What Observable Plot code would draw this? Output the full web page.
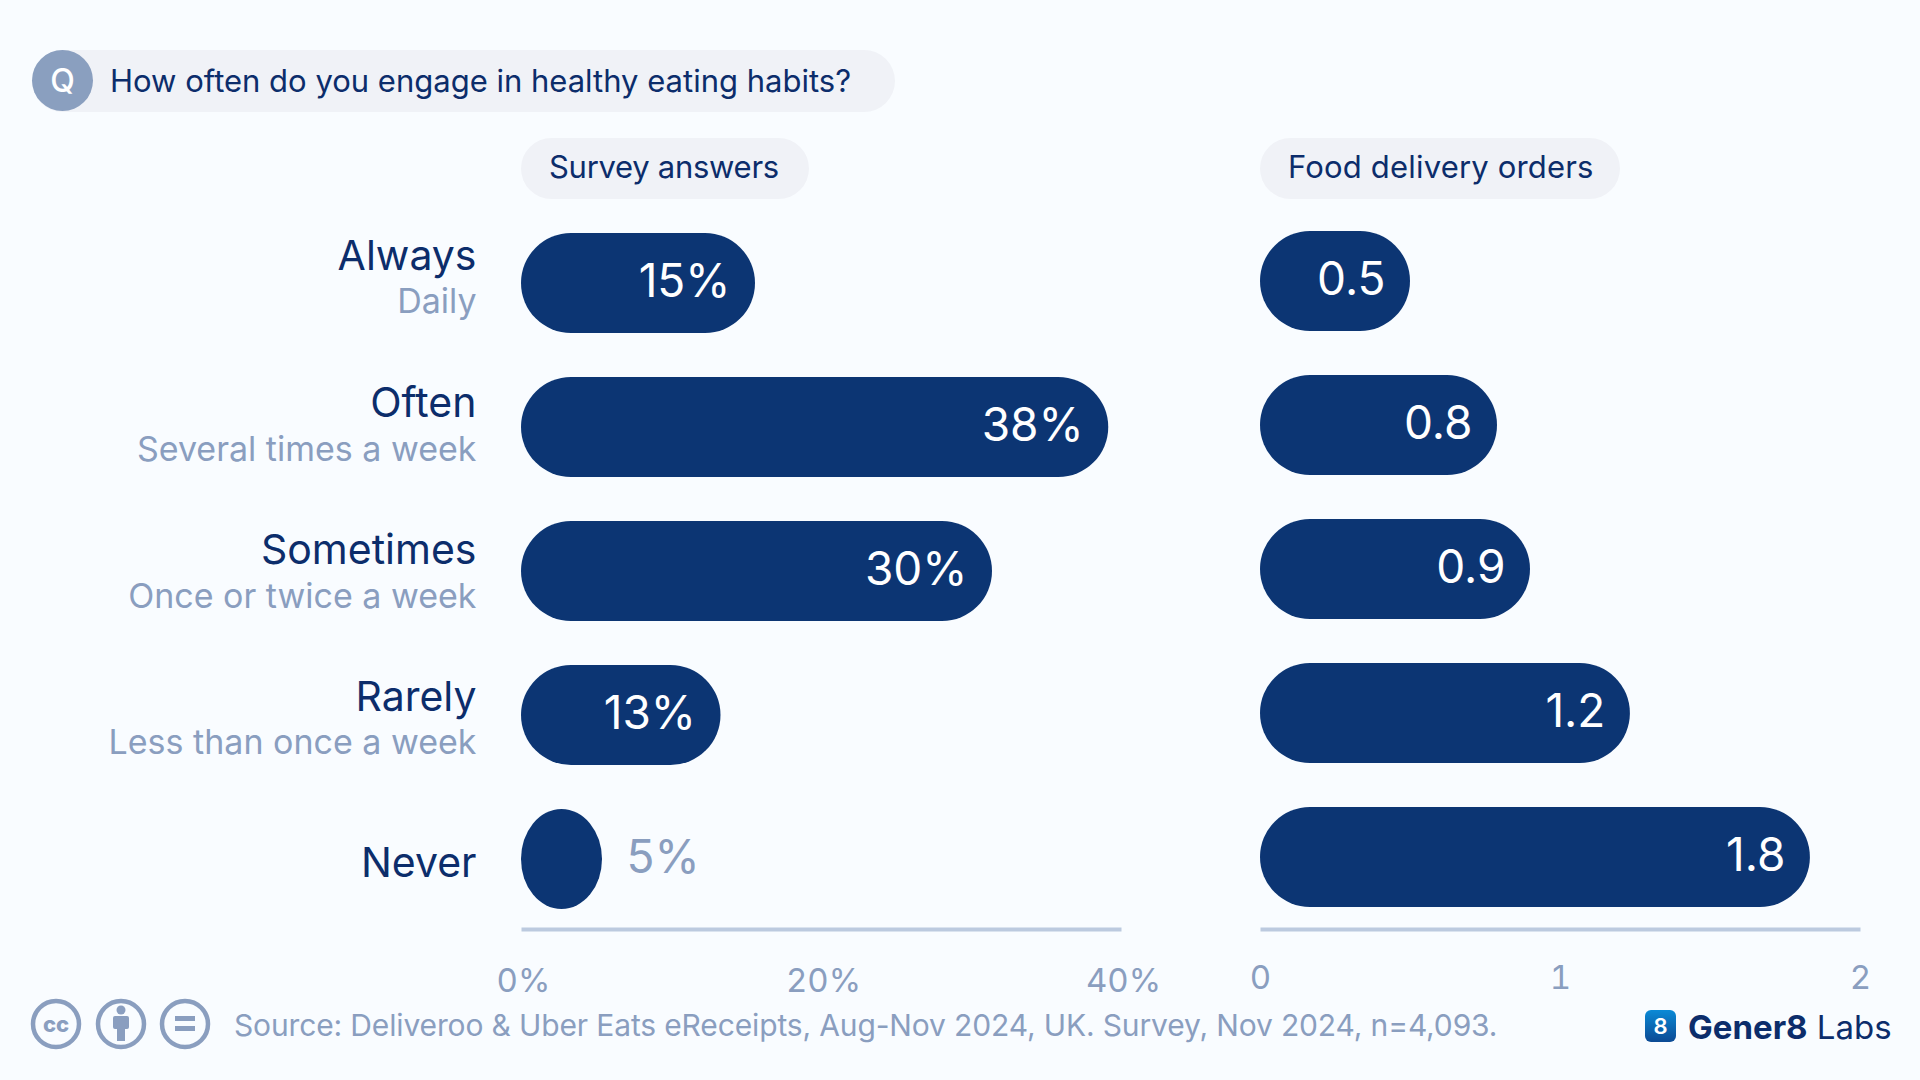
<!DOCTYPE html>
<html><head><meta charset="utf-8">
<script src="https://cdn.jsdelivr.net/npm/d3@7"></script>
<script src="https://cdn.jsdelivr.net/npm/@observablehq/plot@0.6"></script>
<style>
html,body{margin:0;padding:0;background:#F9FCFF;}
#page{position:relative;width:1920px;height:1080px;overflow:hidden;background:#F9FCFF;font-family:"Inter",sans-serif;color:#0C2D6B;}
.pill{position:absolute;background:#F0F2F7;border-radius:31px;display:flex;align-items:center;white-space:nowrap;box-sizing:border-box;}
#left,#right{position:absolute;top:0;}
#left{left:0;}#right{left:1200px;}
#left svg,#right svg{display:block;background:transparent;}
#source{position:absolute;left:234px;top:1003px;font-size:30px;letter-spacing:-0.14px;line-height:44px;color:#8A9EBF;white-space:nowrap;}
#logo{position:absolute;left:1688px;top:1005px;font-size:33px;line-height:44px;white-space:nowrap;}
#logoMark{position:absolute;left:1645px;top:1010px;}
#cc{position:absolute;left:30px;top:997px;}
</style></head><body>
<div id="page">
  <div class="pill" style="left:32px;top:50px;width:863px;height:62px;padding:0 0 2px 78px;font-size:31px;">How often do you engage in healthy eating habits?</div>
  <div style="position:absolute;left:32px;top:50px;width:61px;height:61px;border-radius:50%;background:#8A9FBF;color:#fff;display:flex;align-items:center;justify-content:center;font-size:32px;font-weight:500;">Q</div>
  <div class="pill" style="left:521px;top:138px;width:288px;height:61px;padding:0 0 4px 28px;font-size:31px;letter-spacing:-0.28px;">Survey answers</div>
  <div class="pill" style="left:1260px;top:138px;width:360px;height:61px;padding:0 0 4px 28px;font-size:31px;letter-spacing:0.18px;">Food delivery orders</div>
  <div id="left"></div><div id="right"></div>
  <svg id="cc" width="186" height="54" viewBox="0 0 186 54">
    <g fill="none" stroke="#8A9EBF" stroke-width="4.5">
      <circle cx="26" cy="27" r="23"/><circle cx="91" cy="27" r="23"/><circle cx="155" cy="27" r="23"/>
    </g>
    <text x="26" y="35" text-anchor="middle" font-family="Inter" font-weight="800" font-size="22" fill="#8A9EBF">cc</text>
    <g fill="#8A9EBF"><circle cx="91" cy="13" r="4.5"/><rect x="83" y="19" width="16" height="13" rx="2"/><rect x="87" y="30" width="8" height="14"/>
    <rect x="145" y="19" width="20" height="5"/><rect x="145" y="29" width="20" height="5"/></g>
  </svg>
  <div id="source">Source: Deliveroo &amp; Uber Eats eReceipts, Aug-Nov 2024, UK. Survey, Nov 2024, n=4,093.</div>
  <svg id="logoMark" width="31" height="32" viewBox="0 0 31 32">
    <defs><linearGradient id="lg" x1="0" y1="0" x2="0" y2="1"><stop offset="0" stop-color="#0A8AD6"/><stop offset="1" stop-color="#0C4A94"/></linearGradient></defs>
    <rect width="31" height="32" rx="6" fill="url(#lg)"/>
    <text x="15.5" y="24" text-anchor="middle" font-family="Inter" font-weight="600" font-size="22" fill="#fff">8</text>
  </svg>
  <div id="logo"><b style="font-weight:700;">Gener8</b> Labs</div>
</div>
<script>
const categories = ["Always", "Often", "Sometimes", "Rarely", "Never"];
const subLabels = ["Daily", "Several times a week", "Once or twice a week", "Less than once a week", ""];
// bar lengths as read against each panel's axis, and the figures printed on them
const surveyBars = [15.6, 39.15, 31.4, 13.3, 5.4];
const surveyPrinted = ["15%", "38%", "30%", "13%", "5%"];
const ordersBars = [0.5, 0.79, 0.9, 1.233, 1.833];
const ordersPrinted = ["0.5", "0.8", "0.9", "1.2", "1.8"];
const surveyTicks = [0, 20, 40];
const ordersTicks = [0, 1, 2];
const outsideLabel = "5%";

const NAVY = "#0C3573", INK = "#0C2D6B", MUTED = "#8A9EBF", RULE = "#BCCADF";
const FONT = "Inter, sans-serif";
const rows = (bars, printed) => categories.map((c, i) => ({c, v: bars[i], label: printed[i]}));

function panel({bars, printed, ticks, tickFormat, domain, width, marginLeft, marginRight, yRange, tickPadding, tickDx, extra}) {
  const data = rows(bars, printed);
  return Plot.plot({
    width, height: 1000, marginTop: 0, marginLeft, marginRight, marginBottom: 71,
    style: {background: "transparent", fontFamily: FONT},
    x: {domain, label: null},
    y: {domain: categories, range: yRange, padding: 0.307, label: null, axis: null},
    marks: [
      Plot.frame({anchor: "bottom", stroke: RULE, strokeWidth: 4, strokeLinecap: "butt"}),
      Plot.barX(data, {x: "v", y: "c", fill: NAVY, rx: 50}),
      Plot.text(data.filter(d => d.label !== outsideLabel), {x: "v", y: "c", text: "label", dx: -25, dy: -1, textAnchor: "end", fill: "#fff", fontSize: 46}),
      Plot.text(data.filter(d => d.label === outsideLabel), {x: "v", y: "c", text: "label", dx: 24, dy: -1, textAnchor: "start", fill: MUTED, fontSize: 46}),
      Plot.axisX({ticks, tickFormat, tickSize: 0, tickPadding, dx: tickDx, fontSize: 33, color: MUTED, fill: MUTED, label: null}),
      ...(extra || [])
    ]
  });
}

const labelMarks = categories.flatMap((c, i) => {
  const isLast = subLabels[i] === "";
  return [
    Plot.text([c], {x: () => 0, y: d => d, dx: -45, dy: isLast ? 4 : -27 + i * 3, textAnchor: "end", fill: INK, fontSize: 41}),
    ...(isLast ? [] : [Plot.text([subLabels[i]], {x: () => 0, y: () => c, dx: -45, dy: 19 + (i ? 1 : 0) + i * 2.7, textAnchor: "end", fill: MUTED, fontSize: 34})])
  ];
});

document.getElementById("left").append(panel({
  bars: surveyBars, printed: surveyPrinted, ticks: surveyTicks, tickFormat: d => d + "%",
  domain: [0, 40], width: 1160, marginLeft: 521, marginRight: 39, yRange: [188, 954], tickPadding: 39, tickDx: 2, extra: labelMarks
}));
document.getElementById("right").append(panel({
  bars: ordersBars, printed: ordersPrinted, ticks: ordersTicks, tickFormat: d => String(d),
  domain: [0, 2], width: 700, marginLeft: 60, marginRight: 40, yRange: [186, 952], tickPadding: 36, tickDx: 0
}));
</script>
</body></html>
